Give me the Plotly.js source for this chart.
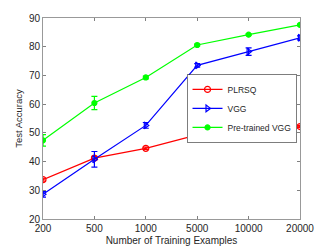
<!DOCTYPE html>
<html><head><meta charset="utf-8">
<script src="https://cdn.plot.ly/plotly-3.0.1.min.js"></script>
<style>body{margin:0;padding:0;background:#fff}#chart{width:332px;height:249px}</style>
</head><body><div id="chart"></div>
<script>
const categories = ["200","500","1000","5000","10000","20000"];
const plrsq = [33.7, 41.2, 44.6, 49.3, 50.9, 52.2];
const plrsqErr = [0.5, 0.6, 0.4, 0.4, 0.4, 0.4];
const vgg = [28.6, 40.8, 52.6, 73.5, 78.3, 83.1];
const vggErr = [1.0, 2.7, 1.0, 0.6, 1.3, 0.7];
const pre = [47.4, 60.4, 69.3, 80.6, 84.2, 87.6];
const preErr = [2.0, 2.3, 0.5, 0.3, 0.3, 0.3];
const yTicks = [20,30,40,50,60,70,80,90];

function tr(name, y, err, color, symbol, msize){
  return {x: categories, y: y, name: name, type:'scatter', mode:'lines+markers',
    line:{color:color, width:1.2},
    marker:{symbol:symbol, size:msize, color:color, line:{color:color, width:1.2}},
    error_y:{type:'data', array:err, visible:true, color:color, thickness:1.2, width:3}};
}
const data = [
  tr('PLRSQ', plrsq, plrsqErr, '#ff0000', 'circle-open', 6),
  tr('VGG', vgg, vggErr, '#0000ff', 'triangle-right-open', 6),
  tr('Pre-trained VGG', pre, preErr, '#00ff00', 'circle', 5)
];
const axcol = '#262626';
const layout = {
  width:332, height:249,
  margin:{l:43, r:32, t:18, b:30},
  paper_bgcolor:'#fff', plot_bgcolor:'#fff',
  font:{family:'Liberation Sans, Arial, sans-serif', size:10, color:axcol},
  showlegend:true,
  legend:{x:0.56, y:0.72, xanchor:'left', yanchor:'top', bgcolor:'#fff',
    bordercolor:axcol, borderwidth:0.6, font:{size:8.5}, tracegroupgap:0,
    itemwidth:30},
  xaxis:{type:'category', range:[0,5], showgrid:false, zeroline:false,
    showline:true, linecolor:'#808080', linewidth:0.8, mirror:'ticks',
    ticks:'inside', ticklen:3, tickcolor:'#808080',
    tickfont:{size:10, color:axcol},
    title:{text:'Number of Training Examples', font:{size:10, color:axcol}, standoff:4}},
  yaxis:{range:[20,90], tickvals:yTicks, showgrid:false, zeroline:false,
    showline:true, linecolor:'#808080', linewidth:0.8, mirror:'ticks',
    ticks:'inside', ticklen:3, tickcolor:'#808080',
    tickfont:{size:10, color:axcol},
    title:{text:'Test Accuracy', font:{size:9.5, color:axcol}, standoff:4}}
};
Plotly.newPlot('chart', data, layout, {displayModeBar:false, staticPlot:true});
</script></body></html>
